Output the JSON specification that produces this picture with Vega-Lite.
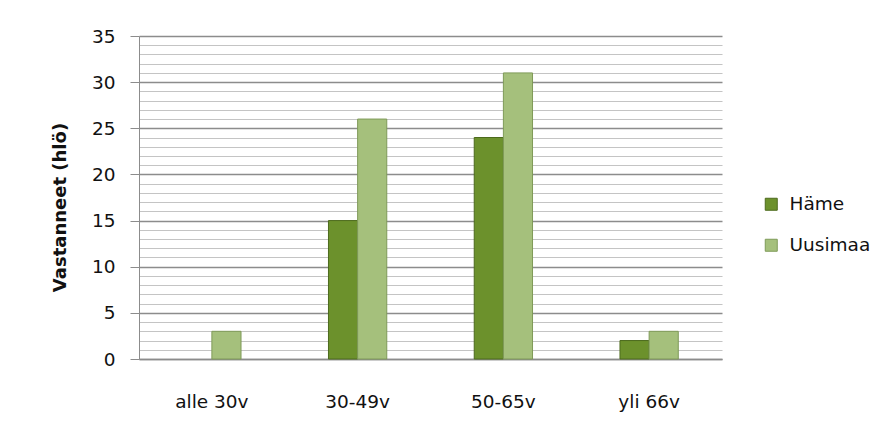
{
  "$schema": "https://vega.github.io/schema/vega-lite/v6.json",
  "width": 583,
  "height": 323,
  "autosize": {"type": "none"},
  "padding": {"left": 139, "top": 36, "right": 162, "bottom": 74},
  "background": "white",
  "config": {
    "font": "DejaVu Sans",
    "view": {"stroke": null}
  },
  "data": {
    "values": [
      {"group": "alle 30v", "series": "Häme", "count": 0},
      {"group": "alle 30v", "series": "Uusimaa", "count": 3},
      {"group": "30-49v", "series": "Häme", "count": 15},
      {"group": "30-49v", "series": "Uusimaa", "count": 26},
      {"group": "50-65v", "series": "Häme", "count": 24},
      {"group": "50-65v", "series": "Uusimaa", "count": 31},
      {"group": "yli 66v", "series": "Häme", "count": 2},
      {"group": "yli 66v", "series": "Uusimaa", "count": 3}
    ]
  },
  "mark": {"type": "bar", "strokeWidth": 1},
  "encoding": {
    "x": {
      "field": "group",
      "type": "nominal",
      "sort": ["alle 30v", "30-49v", "50-65v", "yli 66v"],
      "scale": {"paddingInner": 0.6, "paddingOuter": 0.3},
      "axis": {
        "title": null,
        "labelAngle": 0,
        "labelFontSize": 18.5,
        "labelColor": "#111",
        "labelPadding": 33,
        "ticks": false,
        "domainColor": "#8c8c8c",
        "domainWidth": 1.5
      }
    },
    "xOffset": {
      "field": "series",
      "type": "nominal",
      "sort": ["Häme", "Uusimaa"],
      "scale": {"paddingInner": 0, "paddingOuter": 0}
    },
    "y": {
      "field": "count",
      "type": "quantitative",
      "scale": {"domain": [0, 35], "nice": false},
      "axis": {
        "title": "Vastanneet (hlö)",
        "titleFontSize": 18,
        "titleFontWeight": "bold",
        "titleColor": "#111",
        "titlePadding": 22,
        "titleY": 171,
        "values": [0,1,2,3,4,5,6,7,8,9,10,11,12,13,14,15,16,17,18,19,20,21,22,23,24,25,26,27,28,29,30,31,32,33,34,35],
        "labelExpr": "datum.value % 5 === 0 ? datum.label : ''",
        "labelFontSize": 18.5,
        "labelColor": "#111",
        "labelPadding": 15,
        "tickSize": 9,
        "tickColor": "#8c8c8c",
        "tickOpacity": {"condition": {"test": "datum.value % 5 === 0", "value": 1}, "value": 0},
        "gridColor": {"condition": {"test": "datum.value % 5 === 0", "value": "#8c8c8c"}, "value": "#c4c4c4"},
        "gridWidth": {"condition": {"test": "datum.value % 5 === 0", "value": 1.3}, "value": 1.2},
        "domainColor": "#8c8c8c"
      }
    },
    "color": {
      "field": "series",
      "type": "nominal",
      "scale": {"domain": ["Häme", "Uusimaa"], "range": ["#6c912c", "#a5c07c"]},
      "legend": {
        "title": null,
        "orient": "none",
        "legendX": 623,
        "legendY": 159,
        "symbolType": "square",
        "symbolSize": 144,
        "symbolStrokeWidth": 1,
        "labelFontSize": 18.5,
        "labelColor": "#111",
        "rowPadding": 22,
        "labelOffset": 9
      }
    },
    "stroke": {
      "field": "series",
      "type": "nominal",
      "scale": {"domain": ["Häme", "Uusimaa"], "range": ["#4c6a1c", "#7f9a58"]},
      "legend": null
    },
    "strokeOpacity": {"condition": {"test": "datum.count === 0", "value": 0}, "value": 1}
  }
}
